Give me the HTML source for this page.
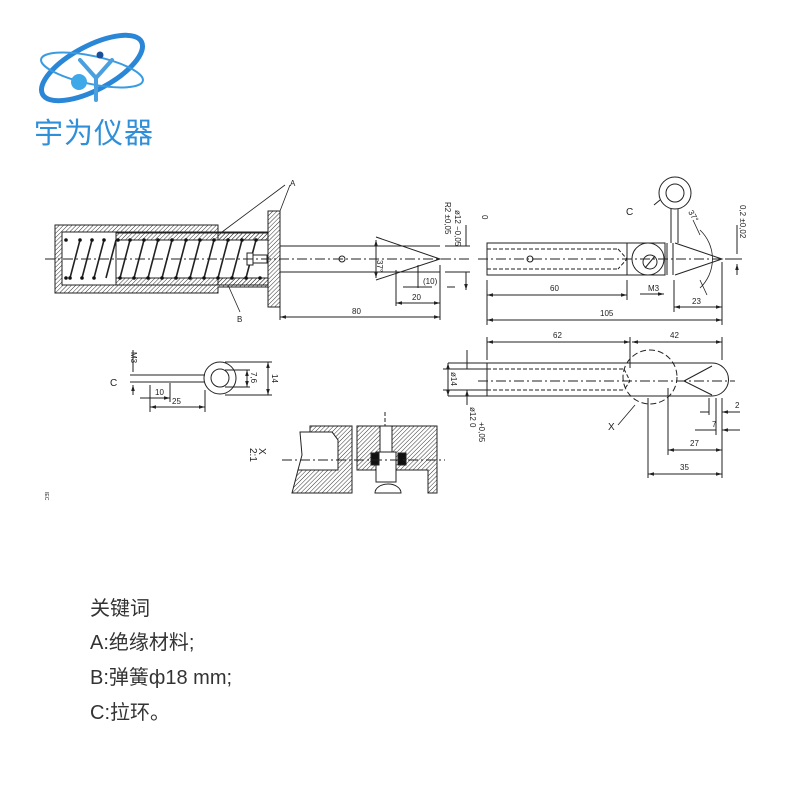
<!DOCTYPE html>
<html><head><meta charset="utf-8"><style>
html,body{margin:0;padding:0;background:#fff;width:800px;height:800px;overflow:hidden}
svg{position:absolute;left:0;top:0}
.t{font-family:"Liberation Sans",sans-serif;font-size:8px;fill:#222}
.kw{position:absolute;left:90px;font-family:"Liberation Sans","Noto Sans CJK SC",sans-serif;font-size:20px;color:#333}
</style></head><body>
<svg width="800" height="800" viewBox="0 0 800 800">
<defs>
<pattern id="h" width="3" height="3" patternUnits="userSpaceOnUse" patternTransform="rotate(45)"><line x1="0" y1="0" x2="0" y2="3" stroke="#333" stroke-width="1"/></pattern>
<marker id="a" viewBox="0 0 10 10" refX="10" refY="5" markerWidth="6" markerHeight="6" orient="auto-start-reverse"><path d="M0,2 L10,5 L0,8z" fill="#222"/></marker>
</defs>
<!-- logo -->
<g fill="none" stroke-linecap="round">
<ellipse cx="92" cy="68" rx="56" ry="22" transform="rotate(-28 92 68)" stroke="#2a86d6" stroke-width="5"/>
<ellipse cx="92" cy="70" rx="52" ry="14" transform="rotate(12 92 70)" stroke="#3b9be0" stroke-width="2"/>
<path d="M80 60 L96 78 L112 60 M96 78 L96 100" stroke="#4aa0de" stroke-width="4"/>
</g>
<circle cx="79" cy="82" r="8" fill="#3fa8e8"/><circle cx="100" cy="55" r="3.5" fill="#1a4f9a"/>
<text x="34" y="143" font-family="Liberation Sans,Noto Sans CJK SC,sans-serif" font-size="29" fill="#2f8fd8" letter-spacing="1">宇为仪器</text>

<g stroke="#222" stroke-width="1" fill="none">
<!-- drawing 1 housing -->
<path d="M55 225 H218 V232 H268 V287 H218 V293 H55z" fill="url(#h)"/>
<rect x="62" y="232" width="156" height="53" fill="#fff"/>
<rect x="116" y="233" width="152" height="52" fill="url(#h)"/>
<rect x="116" y="240" width="152" height="38" fill="#fff"/>
<rect x="268" y="211" width="12" height="96" fill="url(#h)"/>
<path d="M80 240 L70 278 M92 240 L82 278 M104 240 L94 278 M116 240 L106 278 M130 240 L120 278 M144 240 L134 278 M158 240 L148 278 M172 240 L162 278 M186 240 L176 278 M200 240 L190 278 M214 240 L204 278 M228 240 L218 278 M242 240 L232 278 M256 240 L246 278" stroke-width="1.6"/>
<g fill="#111" stroke="none">
<circle cx="66" cy="240" r="1.8"/><circle cx="66" cy="278" r="1.8"/>
<circle cx="80" cy="240" r="1.8"/><circle cx="92" cy="240" r="1.8"/><circle cx="104" cy="240" r="1.8"/><circle cx="118" cy="240" r="1.8"/><circle cx="130" cy="240" r="1.8"/><circle cx="144" cy="240" r="1.8"/><circle cx="158" cy="240" r="1.8"/><circle cx="172" cy="240" r="1.8"/><circle cx="186" cy="240" r="1.8"/><circle cx="200" cy="240" r="1.8"/><circle cx="214" cy="240" r="1.8"/><circle cx="228" cy="240" r="1.8"/><circle cx="242" cy="240" r="1.8"/><circle cx="256" cy="240" r="1.8"/>
<circle cx="70" cy="278" r="1.8"/><circle cx="82" cy="278" r="1.8"/><circle cx="94" cy="278" r="1.8"/><circle cx="120" cy="278" r="1.8"/><circle cx="134" cy="278" r="1.8"/><circle cx="148" cy="278" r="1.8"/><circle cx="162" cy="278" r="1.8"/><circle cx="176" cy="278" r="1.8"/><circle cx="190" cy="278" r="1.8"/><circle cx="204" cy="278" r="1.8"/><circle cx="218" cy="278" r="1.8"/><circle cx="232" cy="278" r="1.8"/><circle cx="246" cy="278" r="1.8"/><circle cx="260" cy="278" r="1.8"/>
</g>
<rect x="247" y="253" width="6" height="12" fill="#fff"/><rect x="253" y="255" width="14" height="8" fill="#fff"/>
<path d="M280 246 H440 M280 272 H440"/>
<path d="M376 237 L440 259 L376 280"/>
<path d="M45 259 H470" stroke-dasharray="10,3,2,3"/>
<circle cx="342" cy="259" r="3"/>
<path d="M222 232 L285 185 M280 211 L290 185 M228 285 L240 312" stroke-width="0.8"/>
<path d="M376 240 V278" marker-start="url(#a)" marker-end="url(#a)"/>
<path d="M280 317 H440" marker-start="url(#a)" marker-end="url(#a)"/>
<path d="M280 307 V320 M440 265 V320 M396 270 V306 M418 265 V288"/>
<path d="M396 303 H440" marker-start="url(#a)" marker-end="url(#a)"/>
<path d="M403 287 H432 M455 287 H447" />
<path d="M466 225 V246 M466 272 V290" marker-end="url(#a)"/>
<path d="M445 246 H470 M445 272 H470"/>
<!-- drawing 2 -->
<rect x="487" y="243" width="140" height="32"/>
<path d="M487 249 H618 M487 269 H618 M618 249 L627 259 L618 269" stroke-dasharray="4,2"/>
<circle cx="648" cy="259" r="16"/><circle cx="650" cy="262" r="7"/><path d="M645 268 L655 256"/>
<path d="M627 243 H665 V275 H627 M667 243 V275 M673 243 V275"/>
<path d="M675 243 L722 259 L675 275"/>
<path d="M478 259 H740" stroke-dasharray="10,3,2,3"/>
<circle cx="530" cy="259" r="3"/>
<circle cx="675" cy="193" r="16"/><circle cx="675" cy="193" r="9"/>
<path d="M671 209 V243 M678 209 V243 M654 205 L660 200" />
<path d="M487 280 V325 M627 280 V300 M722 262 V325 M674 280 V312"/>
<path d="M487 295 H627" marker-start="url(#a)" marker-end="url(#a)"/>
<path d="M487 320 H722" marker-start="url(#a)" marker-end="url(#a)"/>
<path d="M674 307 H722" marker-start="url(#a)" marker-end="url(#a)"/>
<path d="M640 294 H664" marker-end="url(#a)"/>
<path d="M737 225 V254 M737 275 V264" marker-end="url(#a)"/>
<path d="M725 259 H742"/>
<path d="M693 220 L700 235 M700 280 L707 295 M700 230 A40 40 0 0 1 700 288" stroke-width="0.8"/>
<!-- drawing 3 -->
<circle cx="220" cy="378" r="16"/><circle cx="220" cy="378" r="9"/>
<path d="M148 375 H205 M148 382 H205 M130 375 H148 M130 382 H148"/>
<path d="M133 350 V372 M133 395 V385" marker-end="url(#a)"/>
<path d="M170 383 V402 M150 385 V412 M205 390 V412 M225 362 H272 M225 395 H272 M225 370 H250 M225 387 H250"/>
<path d="M140 398 H170" marker-end="url(#a)"/>
<path d="M150 407 H205" marker-start="url(#a)" marker-end="url(#a)"/>
<path d="M247 370 V387" marker-start="url(#a)" marker-end="url(#a)"/>
<path d="M268 362 V395" marker-start="url(#a)" marker-end="url(#a)"/>
<!-- drawing 4 -->
<path d="M487 363 H712 A16.5 16.5 0 0 1 712 396 H487z"/>
<path d="M487 369 H624 M487 390 H624 M624 369 L630 381 L624 390" stroke-dasharray="4,2"/>
<path d="M478 381 H735" stroke-dasharray="10,3,2,3"/>
<path d="M684 381 L712 366 M684 381 L712 395"/>
<circle cx="650" cy="377" r="27" stroke-dasharray="6,3"/>
<path d="M487 337 V360 M630 337 V368 M722 337 V360"/>
<path d="M487 342 H630" marker-start="url(#a)" marker-end="url(#a)"/>
<path d="M632 342 H722" marker-start="url(#a)" marker-end="url(#a)"/>
<path d="M448 363 H487 M448 396 H487 M443 369 H487 M443 390 H487"/>
<path d="M448 363 V396" marker-start="url(#a)" marker-end="url(#a)"/>
<path d="M467 350 V369 M467 405 V390" marker-end="url(#a)"/>
<path d="M709 398 V415 M716 398 V435 M722 398 V478 M668 388 V455 M648 398 V478"/>
<path d="M700 412 H709 M740 412 H722" marker-end="url(#a)"/>
<path d="M695 430 H716 M740 430 H722" marker-end="url(#a)"/>
<path d="M668 450 H722" marker-start="url(#a)" marker-end="url(#a)"/>
<path d="M648 474 H722" marker-start="url(#a)" marker-end="url(#a)"/>
<path d="M618 425 L635 405" stroke-width="0.8"/>
<!-- drawing 5 section -->
<path d="M310 426 H352 V493 H292 L298 470 H338 V440 L332 432 H310z" fill="url(#h)"/>
<path d="M357 426 H437 V493 H428 V470 H357z" fill="url(#h)"/>
<path d="M300 432 H332 L338 440 V470 H298 L302 455z" fill="#fff"/>
<rect x="380" y="426" width="12" height="30" fill="#fff"/>
<rect x="376" y="452" width="20" height="30" fill="#fff"/>
<rect x="371" y="453" width="8" height="12" fill="#111"/><rect x="398" y="453" width="8" height="12" fill="#111"/>
<path d="M375 493 A13 9 0 0 1 401 493z" fill="#fff"/>
<path d="M282 460 H445" stroke-dasharray="10,3,2,3"/>
<path d="M385 412 V426" stroke-dasharray="4,2"/>
</g>
<g class="t">
<text x="290" y="186">A</text>
<text x="237" y="322">B</text>
<text x="385" y="268" transform="rotate(90 385 260)">37°</text>
<text x="352" y="314">80</text>
<text x="412" y="300">20</text>
<text x="423" y="284">(10)</text>
<text x="445" y="202" transform="rotate(90 445 202)">R2 ±0,05</text>
<text x="455" y="210" transform="rotate(90 455 210)">ø12 −0,05</text>
<text x="482" y="215" transform="rotate(90 482 215)">0</text>
<text x="626" y="215" font-size="10">C</text>
<text x="550" y="291">60</text>
<text x="600" y="316">105</text>
<text x="692" y="304">23</text>
<text x="648" y="291">M3</text>
<text x="688" y="212" transform="rotate(60 688 212)">37°</text>
<text x="740" y="205" transform="rotate(90 740 205)">0,2 ±0,02</text>
<text x="110" y="386" font-size="10">C</text>
<text x="131" y="352" transform="rotate(90 131 352)">M3</text>
<text x="155" y="395">10</text>
<text x="172" y="404">25</text>
<text x="251" y="372" transform="rotate(90 251 372)">7,6</text>
<text x="272" y="374" transform="rotate(90 272 374)">14</text>
<text x="553" y="338">62</text>
<text x="670" y="338">42</text>
<text x="451" y="372" transform="rotate(90 451 372)">ø14</text>
<text x="470" y="407" transform="rotate(90 470 407)">ø12 0</text>
<text x="479" y="422" transform="rotate(90 479 422)">+0,05</text>
<text x="608" y="430" font-size="10">X</text>
<text x="735" y="408">2</text>
<text x="712" y="427">7</text>
<text x="690" y="446">27</text>
<text x="680" y="470">35</text>
<text x="259" y="448" font-size="10" transform="rotate(90 259 448)">X</text>
<text x="250" y="448" font-size="10" transform="rotate(90 250 448)">2:1</text>
<text x="45" y="492" font-size="5" transform="rotate(90 45 492)">IEC</text>
</g>
</svg>
<div class="kw" style="top:592px">关键词</div>
<div class="kw" style="top:626px">A:绝缘材料;</div>
<div class="kw" style="top:661px">B:弹簧ф18 mm;</div>
<div class="kw" style="top:696px">C:拉环。</div>
</body></html>
